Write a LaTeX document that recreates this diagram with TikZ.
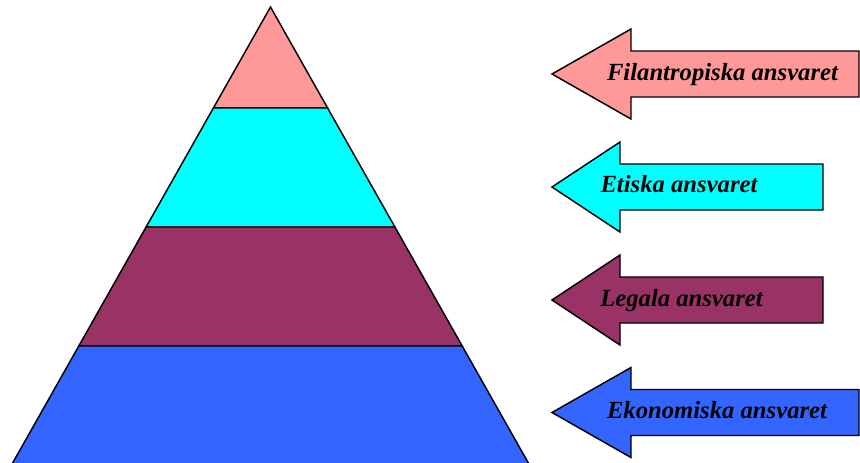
\documentclass[tikz,border=0pt]{standalone}
\usepackage{fontspec}
\setmainfont{Liberation Serif}
\definecolor{tierpink}{HTML}{FF9999}
\definecolor{tiercyan}{HTML}{00FFFF}
\definecolor{tiermaroon}{HTML}{993366}
\definecolor{tierblue}{HTML}{3366FF}

% left-pointing block arrow: tip x, centre y, head back x, right end x
\newcommand{\blockarrow}[5]{%
  \fill[#5] (#1,#2) -- (#3,#2-45) -- (#3,#2-23) -- (#4,#2-23)
    -- (#4,#2+23) -- (#3,#2+23) -- (#3,#2+45) -- cycle;
  \draw[outline] (#1,#2) -- (#3,#2-45) -- (#3,#2-23) -- (#4,#2-23)
    -- (#4,#2+23) -- (#3,#2+23) -- (#3,#2+45) -- cycle;}

\begin{document}
\begin{tikzpicture}[x=0.75pt,y=-0.75pt,
  outline/.style={draw=black,line width=1.1pt,line join=miter},
  tiertext/.style={font=\bfseries\itshape\fontsize{18.5}{22}\selectfont,
    anchor=base,inner sep=0pt}]
\useasboundingbox (0,0) rectangle (860,462);
\begin{scope}
\clip (0,0) rectangle (860,462);
% pyramid tiers, top to bottom
\filldraw[outline,fill=tierpink] (270.5,7) -- (327.6,108) -- (213.4,108) -- cycle;
\filldraw[outline,fill=tiercyan] (213.4,108) -- (327.6,108) -- (394.9,227) -- (146.1,227) -- cycle;
\filldraw[outline,fill=tiermaroon] (146.1,227) -- (394.9,227) -- (462.2,346) -- (78.8,346) -- cycle;
\filldraw[outline,fill=tierblue] (78.8,346) -- (462.2,346) -- (529.5,465) -- (11.5,465) -- cycle;
\end{scope}

% arrows with their labels
\blockarrow{552}{74}{631}{859}{tierpink}
\blockarrow{552}{187}{620}{823}{tiercyan}
\blockarrow{552}{300}{620}{823}{tiermaroon}
\blockarrow{552}{412.5}{631}{859}{tierblue}

\node[tiertext] (fil) at (722.5,80) {Filantropiska ansvaret};
\node[tiertext] (eti) at (679,192.5) {Etiska ansvaret};
\node[tiertext] (leg) at (681.5,306) {Legala ansvaret};
\node[tiertext] (eko) at (717,418.5) {Ekonomiska ansvaret};
\end{tikzpicture}
\end{document}
